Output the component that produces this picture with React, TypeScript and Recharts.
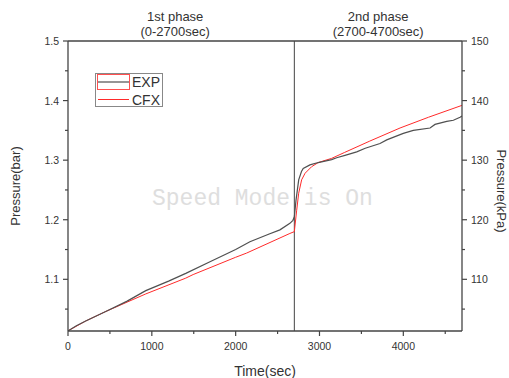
import React from 'react';
import { LineChart, Line, XAxis, YAxis, ReferenceLine, ReferenceArea } from 'recharts';

// EXP (measured) series
const expTime = [0, 100, 211, 450, 700, 928, 1200, 1405, 1700, 2000, 2170, 2400, 2528, 2647, 2683, 2700, 2720, 2752, 2785, 2806, 2886, 2985, 3145, 3205, 3304, 3444, 3546, 3722, 3802, 4000, 4119, 4319, 4378, 4518, 4597, 4677, 4700];
const expBar = [1.0135, 1.022, 1.030, 1.046, 1.063, 1.081, 1.097, 1.110, 1.130, 1.150, 1.163, 1.176, 1.183, 1.194, 1.199, 1.205, 1.233, 1.267, 1.281, 1.286, 1.292, 1.296, 1.301, 1.304, 1.308, 1.314, 1.320, 1.328, 1.334, 1.345, 1.350, 1.354, 1.360, 1.365, 1.367, 1.372, 1.374];

// CFX (simulation) series
const cfxTime = [0, 211, 450, 928, 1405, 1493, 2000, 2130, 2647, 2700, 2728, 2752, 2787, 2828, 2906, 2985, 3145, 3300, 3600, 3961, 4300, 4700];
const cfxBar = [1.0135, 1.030, 1.046, 1.0755, 1.102, 1.108, 1.137, 1.144, 1.177, 1.180, 1.216, 1.2445, 1.267, 1.278, 1.289, 1.296, 1.303, 1.313, 1.332, 1.354, 1.372, 1.392];

const xTicks = [0, 500, 1000, 1500, 2000, 2500, 3000, 3500, 4000, 4500];
const barTicks = [1.05, 1.1, 1.15, 1.2, 1.25, 1.3, 1.35, 1.4, 1.45, 1.5];
const kpaTicks = [105, 110, 115, 120, 125, 130, 135, 140, 145, 150];
const phaseSplit = 2700;

const expData = expTime.map((t, i) => ({ t, p: expBar[i] }));
const cfxData = cfxTime.map((t, i) => ({ t, p: cfxBar[i] }));

const AXIS = '#444';
const TEXT = '#333';
const FONT = '"Liberation Sans", Arial, sans-serif';

function XTick(props: any) {
  const { x, y, payload } = props;
  const major = payload.value % 1000 === 0;
  return (
    <g>
      <line x1={x} x2={x} y1={y} y2={y + (major ? 5 : 3)} stroke={AXIS} strokeWidth={1.2} />
      {major && (
        <text x={x} y={y + 19} textAnchor="middle" fontSize={10.5} fill={TEXT} fontFamily={FONT}>
          {payload.value}
        </text>
      )}
    </g>
  );
}

function LeftTick(props: any) {
  const { x, y, payload } = props;
  const major = Math.round(payload.value * 100) % 10 === 0;
  return (
    <g>
      <line x1={x - (major ? 5 : 3)} x2={x} y1={y} y2={y} stroke={AXIS} strokeWidth={1.2} />
      {major && (
        <text x={x - 9} y={y + 4} textAnchor="end" fontSize={10.5} fill={TEXT} fontFamily={FONT}>
          {payload.value.toFixed(1)}
        </text>
      )}
    </g>
  );
}

function RightTick(props: any) {
  const { x, y, payload } = props;
  const major = payload.value % 10 === 0;
  return (
    <g>
      <line x1={x} x2={x + (major ? 5 : 3)} y1={y} y2={y} stroke={AXIS} strokeWidth={1.2} />
      {major && (
        <text x={x + 9} y={y + 4} textAnchor="start" fontSize={10.5} fill={TEXT} fontFamily={FONT}>
          {payload.value}
        </text>
      )}
    </g>
  );
}

function PhaseLabel(props: any) {
  const { viewBox, lines, shift } = props;
  const cx = viewBox.x + viewBox.width / 2 + (shift || 0);
  return (
    <g fontFamily={FONT} fontSize={13} fill={TEXT} textAnchor="middle">
      <text x={cx} y={viewBox.y - 20}>{lines[0]}</text>
      <text x={cx} y={viewBox.y - 5}>{lines[1]}</text>
    </g>
  );
}

function LeftTitle(props: any) {
  const { viewBox } = props;
  const cx = viewBox.x + 15;
  const cy = viewBox.y + viewBox.height / 2;
  return (
    <text x={cx} y={cy} transform={`rotate(-90 ${cx} ${cy})`} textAnchor="middle" dominantBaseline="central" fontSize={13} fill={TEXT} fontFamily={FONT}>
      Pressure(bar)
    </text>
  );
}

function RightTitle(props: any) {
  const { viewBox } = props;
  const cx = viewBox.x + viewBox.width - 8;
  const cy = viewBox.y + viewBox.height / 2 + 5;
  return (
    <text x={cx} y={cy} transform={`rotate(90 ${cx} ${cy})`} textAnchor="middle" dominantBaseline="central" fontSize={13} fill={TEXT} fontFamily={FONT}>
      Pressure(kPa)
    </text>
  );
}

export default function App() {
  return (
    <div style={{ position: 'absolute', left: 0, top: 0, width: 509, height: 378, background: '#fff' }}>
      <LineChart width={509} height={378} margin={{ top: 41, right: 0, bottom: 0, left: 0 }}>
        <XAxis
          dataKey="t"
          type="number"
          domain={[0, 4700]}
          ticks={xTicks}
          allowDataOverflow
          height={47}
          stroke={AXIS}
          strokeWidth={1.3}
          tickSize={0}
          tickMargin={0}
          tick={XTick}
          label={{ value: 'Time(sec)', position: 'insideBottom', offset: 2, fontSize: 14, fill: TEXT, fontFamily: FONT }}
        />
        <YAxis
          yAxisId="bar"
          type="number"
          domain={[1.01325, 1.5]}
          ticks={barTicks}
          allowDataOverflow
          width={68}
          stroke={AXIS}
          strokeWidth={1.3}
          tickSize={0}
          tickMargin={0}
          tick={LeftTick}
          label={<LeftTitle />}
        />
        <YAxis
          yAxisId="kpa"
          orientation="right"
          type="number"
          domain={[101.325, 150]}
          ticks={kpaTicks}
          allowDataOverflow
          width={47}
          stroke={AXIS}
          strokeWidth={1.3}
          tickSize={0}
          tickMargin={0}
          tick={RightTick}
          label={<RightTitle />}
        />
        <ReferenceLine yAxisId="bar" y={1.5} stroke={AXIS} strokeWidth={1.3} />
        <ReferenceLine yAxisId="bar" x={phaseSplit} stroke={AXIS} strokeWidth={1} />
        <ReferenceArea
          yAxisId="bar"
          x1={0}
          x2={phaseSplit}
          fill="none"
          stroke="none"
          label={<PhaseLabel lines={['1st phase', '(0-2700sec)']} shift={-6} />}
        />
        <ReferenceArea
          yAxisId="bar"
          x1={phaseSplit}
          x2={4700}
          fill="none"
          stroke="none"
          label={<PhaseLabel lines={['2nd phase', '(2700-4700sec)']} />}
        />
        <Line yAxisId="bar" data={cfxData} dataKey="p" type="linear" stroke="#ff2a2a" strokeWidth={1} dot={false} isAnimationActive={false} />
        <Line yAxisId="bar" data={expData} dataKey="p" type="linear" stroke="#505050" strokeWidth={1.2} dot={false} isAnimationActive={false} />
      </LineChart>

      <svg style={{ position: 'absolute', left: 0, top: 0, pointerEvents: 'none' }} width={509} height={378}>
        <text x={152} y={205} fontFamily='"Liberation Mono", "DejaVu Sans Mono", monospace' fontSize={23} fill="#dedede">
          Speed Mode is On
        </text>
        <rect x={95.5} y={73.5} width={67} height={33} fill="#fff" stroke="#888" strokeWidth={1} />
        <rect x={97.5} y={74.5} width={32} height={15} fill="none" stroke="#ff5050" strokeWidth={1} />
        <line x1={98} x2={129} y1={82} y2={82} stroke="#505050" strokeWidth={1.2} />
        <text x={132} y={87} fontSize={14} fill={TEXT} fontFamily={FONT}>EXP</text>
        <line x1={98} x2={129} y1={99.5} y2={99.5} stroke="#ff2a2a" strokeWidth={1} />
        <text x={132} y={104.5} fontSize={14} fill={TEXT} fontFamily={FONT}>CFX</text>
      </svg>
    </div>
  );
}
